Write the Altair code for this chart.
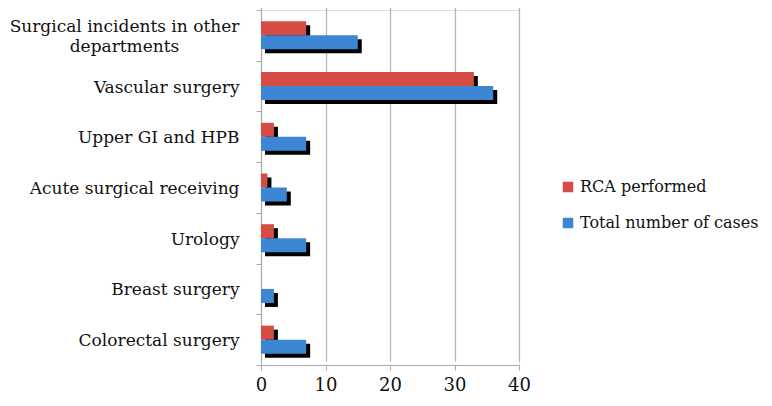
import altair as alt
import pandas as pd

categories = ["Surgical incidents in other departments", "Vascular surgery", "Upper GI and HPB",
              "Acute surgical receiving", "Urology", "Breast surgery", "Colorectal surgery"]
rca_performed = [7, 33, 2, 1, 2, 0, 2]
total_cases = [15, 36, 7, 4, 7, 2, 7]
series = ["RCA performed", "Total number of cases"]
colors = ["#D44C44", "#3D86D3"]

rows = []
for c, r, t in zip(categories, rca_performed, total_cases):
    rows.append({"category": c, "series": series[0], "value": r})
    rows.append({"category": c, "series": series[1], "value": t})
df = pd.DataFrame(rows)

FONT = "DejaVu Serif"
H = 355
SH = 4
LONG = "datum.value == 'Surgical incidents in other departments'"

y_main = alt.Y("category:N", sort=categories, title=None,
               scale=alt.Scale(paddingInner=0, paddingOuter=0, range=[0, H]),
               axis=alt.Axis(tickBand="extent", labelFont=FONT, labelFontSize=17, labelColor="#111",
                             labelPadding=alt.ExprRef(f"{LONG} ? 132 : 17"),
                             labelAlign=alt.ExprRef(f"{LONG} ? 'center' : 'right'"),
                             tickSize=5, tickColor="#aaa", domainColor="#aaa",
                             labelLineHeight=20, labelLimit=300, grid=False,
                             labelOffset=alt.ExprRef(f"{LONG} ? -9 : 1"),
                             labelExpr="datum.label == 'Surgical incidents in other departments' ? ['Surgical incidents in other', 'departments'] : datum.label"))
y_shadow = alt.Y("category:N", sort=categories, title=None,
                 scale=alt.Scale(paddingInner=0, paddingOuter=0, range=[SH, H + SH]),
                 axis=None)
yoff = alt.YOffset("series:N", sort=series, scale=alt.Scale(paddingInner=0, paddingOuter=0.81))
x_enc = alt.X("value:Q", title=None,
              scale=alt.Scale(domain=[0, 40]),
              axis=alt.Axis(values=[0, 10, 20, 30, 40], labelFont=FONT, labelFontSize=18, labelColor="#111",
                            labelPadding=6, tickSize=5, tickColor="#aaa", domainColor="#aaa",
                            gridColor="#b5b5b5", gridWidth=1.3, labelFlush=False))

shadow = alt.Chart(df).mark_bar(color="black", xOffset=SH, x2Offset=SH).encode(
    y=y_shadow, yOffset=yoff, x=x_enc
)
bars = alt.Chart(df).mark_bar().encode(
    y=y_main, yOffset=yoff, x=x_enc,
    color=alt.Color("series:N", sort=series, title=None,
                    scale=alt.Scale(domain=series, range=colors),
                    legend=alt.Legend(orient="none", legendX=299, legendY=169, symbolType="square",
                                      symbolSize=110, labelFont=FONT, labelFontSize=16, labelColor="#111",
                                      labelLimit=400, rowPadding=20, symbolStrokeWidth=0))
)

chart = alt.layer(shadow, bars).resolve_scale(y="independent").properties(
    width=258, height=H,
    autosize=alt.AutoSizeParams(type="none"),
    padding={"left": 253, "top": 2, "right": 245, "bottom": 33},
).configure_view(stroke=None).configure(background="white")

chart.save("out.html", embed_options={"renderer": "svg", "actions": False})
